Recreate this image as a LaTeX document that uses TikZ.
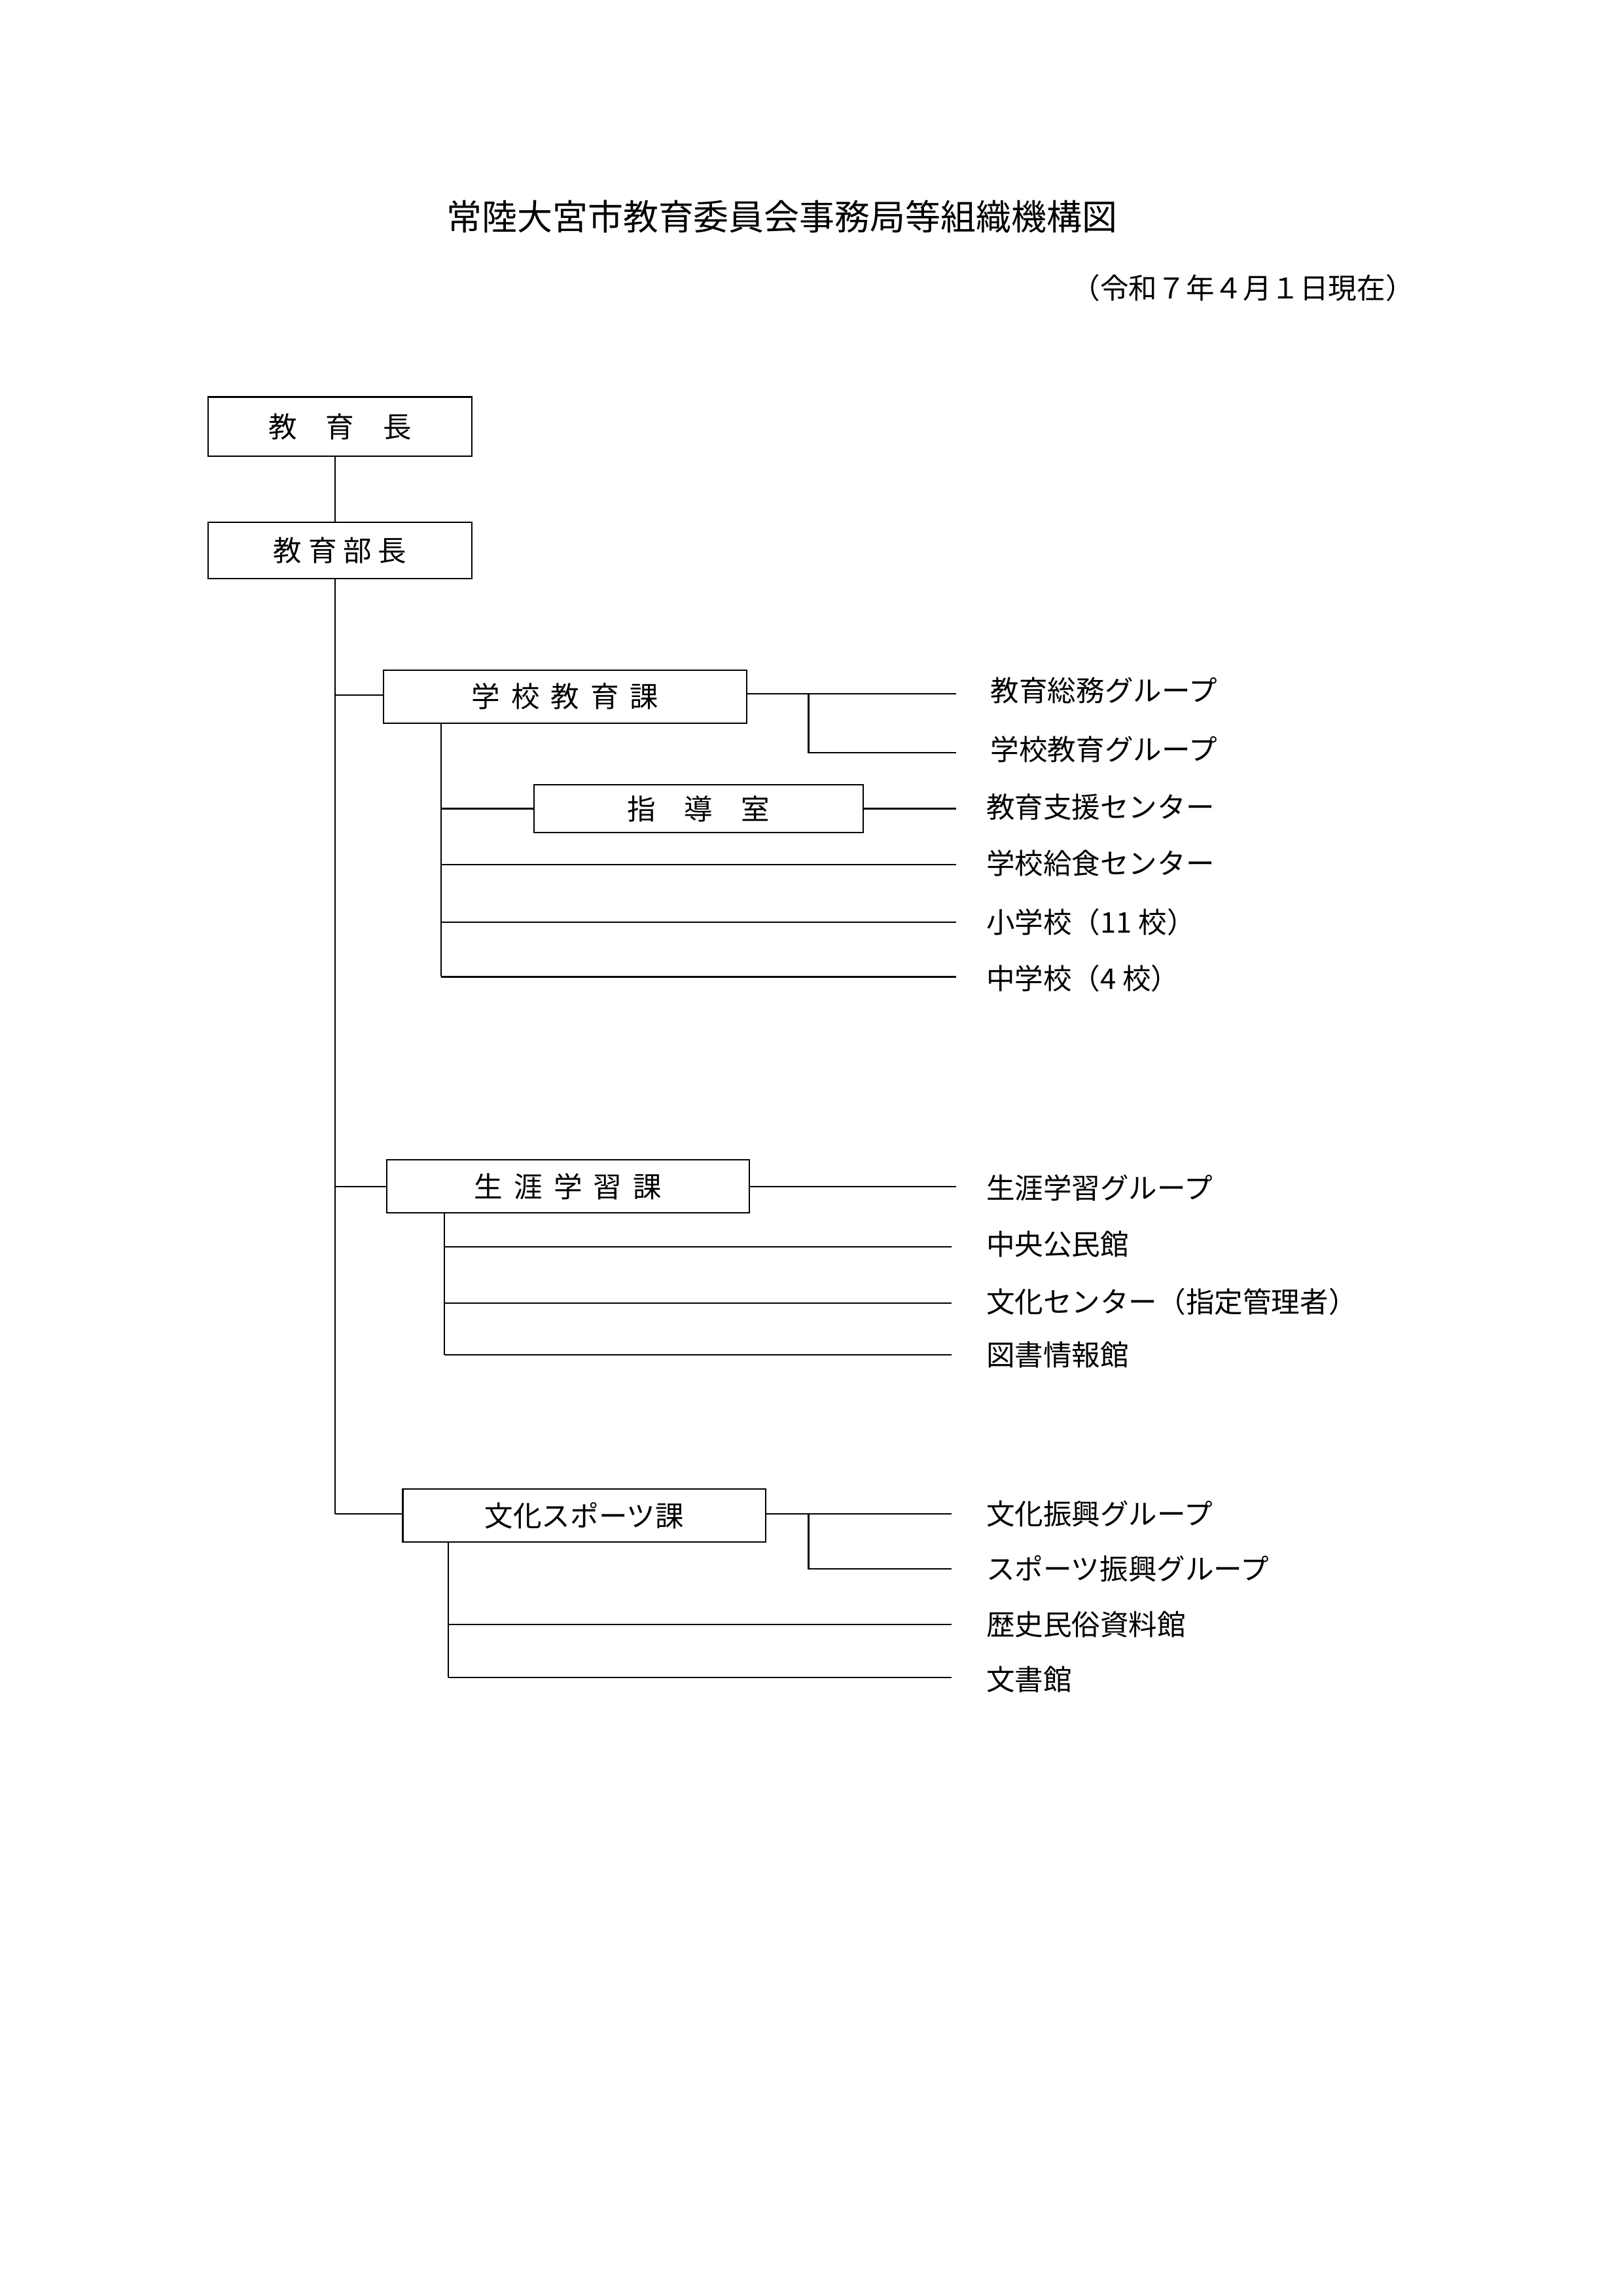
\documentclass[tikz,border=0pt]{standalone}
\usepackage{fontspec}
\setmainfont{Noto Sans CJK JP}
\newfontfamily\cjk{Noto Sans CJK JP}
\begin{document}
\begin{tikzpicture}[x=0.1909mm,y=-0.1909mm,line width=0.5pt,
 bx/.style={draw,minimum width=0,inner sep=0,font=\fontsize{10.5}{12}\selectfont},
 lb/.style={anchor=west,inner sep=0,font=\fontsize{10.5}{12}\selectfont}]
\useasboundingbox (0,0) rectangle (1100,1556);
\node[font=\fontsize{13}{15}\selectfont] (title) at (530,147) {常陸大宮市教育委員会事務局等組織機構図};
\node[anchor=east,font=\fontsize{10.5}{12}\selectfont] (date) at (965,195) {（令和７年４月１日現在）};
\node[bx,minimum width=179*0.1909mm,minimum height=40*0.1909mm] (k) at (230.5,289) {教\quad 育\quad 長};
\node[bx,minimum width=179*0.1909mm,minimum height=38*0.1909mm] (b) at (230.5,373) {教 育 部 長};
\draw (227,309) -- (227,354);
\draw (227,392) -- (227,1026);
% 学校教育課
\node[bx,minimum width=246*0.1909mm,minimum height=36*0.1909mm] (g) at (383,472) {学\, 校\, 教\, 育\, 課};
\draw (227,471) -- (260,471);
\draw (506,470) -- (648,470);
\node[lb] (g1) at (671,468) {教育総務グループ};
\draw (548,470) -- (548,510) -- (648,510);
\node[lb] (g2) at (671,508) {学校教育グループ};
\draw (299,490) -- (299,662);
\node[bx,minimum width=223*0.1909mm,minimum height=32*0.1909mm] (s) at (473.5,548) {指\quad 導\quad 室};
\draw (299,548) -- (362,548);
\draw (585,548) -- (648,548);
\node[lb] (g3) at (668,547) {教育支援センター};
\draw (299,586) -- (648,586);
\node[lb] (g4) at (668,585) {学校給食センター};
\draw (299,625) -- (648,625);
\node[lb] (g5) at (668,625) {小学校（11 校）};
\draw (299,662) -- (648,662);
\node[lb] (g6) at (668,663) {中学校（4 校）};
% 生涯学習課
\node[bx,minimum width=246*0.1909mm,minimum height=36*0.1909mm] (sh) at (385,804) {生\, 涯\, 学\, 習\, 課};
\draw (227,804) -- (262,804);
\draw (508,804) -- (648,804);
\node[lb] (s1) at (668,805) {生涯学習グループ};
\draw (301,822) -- (301,918);
\draw (301,845) -- (645,845);
\node[lb] (s2) at (668,843) {中央公民館};
\draw (301,883) -- (645,883);
\node[lb] (s3) at (668,882) {文化センター（指定管理者）};
\draw (301,918) -- (645,918);
\node[lb] (s4) at (668,918) {図書情報館};
% 文化スポーツ課
\node[bx,minimum width=246*0.1909mm,minimum height=36*0.1909mm] (bs) at (396,1027) {文化スポーツ課};
\draw (227,1026) -- (273,1026);
\draw (519,1026) -- (645,1026);
\node[lb] (b1) at (668,1026) {文化振興グループ};
\draw (548,1026) -- (548,1063) -- (645,1063);
\node[lb] (b2) at (668,1063) {スポーツ振興グループ};
\draw (304,1045) -- (304,1137);
\draw (304,1101) -- (645,1101);
\node[lb] (b3) at (668,1101) {歴史民俗資料館};
\draw (304,1137) -- (645,1137);
\node[lb] (b4) at (668,1138) {文書館};
\end{tikzpicture}
\end{document}
